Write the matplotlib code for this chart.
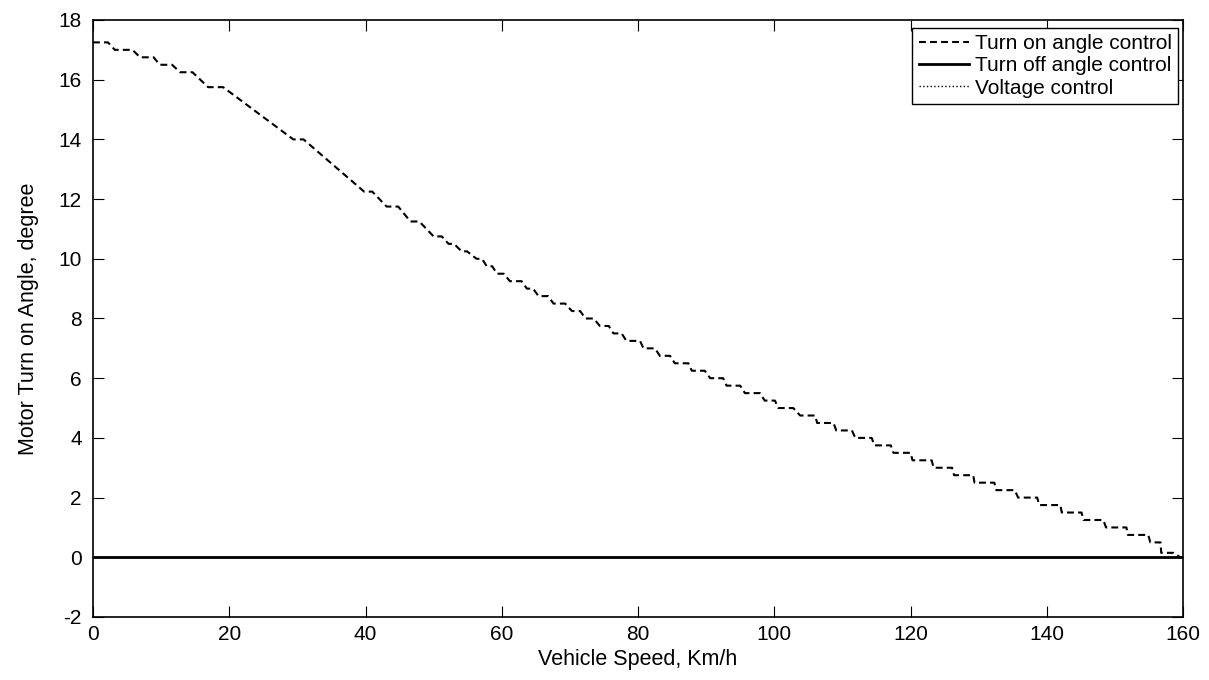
import matplotlib
matplotlib.use("Agg")
import matplotlib.pyplot as plt

# flat parts of the turn-on angle staircase
step_level = [17.25, 17.0, 16.75, 16.5, 16.25, 15.75, 14.0, 12.25, 11.75, 11.25,
              10.75, 10.5, 10.25, 10.0, 9.75, 9.5, 9.25, 9.0, 8.75, 8.5,
              8.25, 8.0, 7.75, 7.5, 7.25, 7.0, 6.75, 6.5, 6.25, 6.0,
              5.75, 5.5, 5.25, 5.0, 4.75, 4.5, 4.25, 4.0, 3.75, 3.5,
              3.25, 3.0, 2.75, 2.5, 2.25, 2.0, 1.75, 1.5, 1.25, 1.0,
              0.75, 0.5, 0.15, 0.0]
step_start = [0, 3.2, 6.9, 9.8, 12.8, 16.9, 29.4, 39.8, 43.1, 46.6,
              50.0, 52.2, 54.1, 56.3, 57.8, 59.3, 61.2, 63.7, 65.4, 67.6,
              70.3, 72.3, 74.4, 76.4, 78.3, 80.8, 83.2, 85.4, 87.9, 90.6,
              93.0, 95.7, 98.6, 100.6, 103.8, 106.3, 109.1, 111.9, 114.7, 117.5,
              120.3, 123.4, 126.4, 129.4, 132.6, 135.8, 138.9, 142.2, 145.4, 148.7,
              151.9, 155.2, 156.8, 159.6]
step_end = [2.2, 5.8, 8.9, 11.6, 14.6, 19.1, 30.9, 41.0, 44.8, 47.9,
            51.2, 53.0, 54.9, 57.1, 58.6, 60.3, 62.9, 64.6, 66.8, 69.3,
            71.5, 73.5, 75.7, 77.6, 80.3, 82.5, 84.7, 87.4, 89.8, 92.5,
            95.0, 97.9, 100.1, 102.8, 106.0, 108.7, 111.4, 114.3, 117.1, 120.0,
            123.1, 126.1, 129.2, 132.3, 135.3, 138.6, 142.0, 145.1, 148.3, 151.7,
            154.9, 156.7, 158.6, 159.6]

off_speed = [0, 160]
off_angle = [0, 0]
volt_speed = [0, 160]
volt_angle = [0, 0]

on_speed = []
on_angle = []
for lv, s0, s1 in zip(step_level, step_start, step_end):
    on_speed += [s0, s1]
    on_angle += [lv, lv]

plt.rcParams['font.family'] = ['Liberation Sans', 'DejaVu Sans']
plt.rcParams['font.size'] = 15
plt.rcParams['axes.unicode_minus'] = False

fig = plt.figure(figsize=(12.09, 6.8), dpi=100)
ax = fig.add_axes([93 / 1209, 63 / 680, 1090 / 1209, 597 / 680])

ax.plot(on_speed, on_angle, color='k', lw=1.5, ls=(0, (3.3, 2.0)),
        label='Turn on angle control')
ax.plot(off_speed, off_angle, color='k', lw=2.0, label='Turn off angle control')
ax.plot(volt_speed, volt_angle, color='k', lw=1.0, ls=':', label='Voltage control')

ax.set_xlim(0, 160)
ax.set_ylim(-2, 18)
ax.set_xticks(range(0, 161, 20))
ax.set_yticks(range(-2, 19, 2))
ax.tick_params(direction='in', length=8, width=0.8, top=True, right=True,
               labelsize=15, pad=6)
ax.tick_params(axis='y', pad=8)
for sp in ax.spines.values():
    sp.set_linewidth(1.2)

ax.set_xlabel('Vehicle Speed, Km/h', fontsize=15.5, labelpad=3)
ax.set_ylabel('Motor Turn on Angle, degree', fontsize=15.5, labelpad=14)

leg = ax.legend(loc='upper right', bbox_to_anchor=(1178 / 1209, 1 - 28 / 680),
                bbox_transform=fig.transFigure, borderaxespad=0, fancybox=False,
                framealpha=1, edgecolor='k', fontsize=15, handlelength=2.4,
                handletextpad=0.3, labelspacing=0.15, borderpad=0.3)
leg.get_frame().set_linewidth(1.0)

fig.savefig('out.png', dpi=100)
